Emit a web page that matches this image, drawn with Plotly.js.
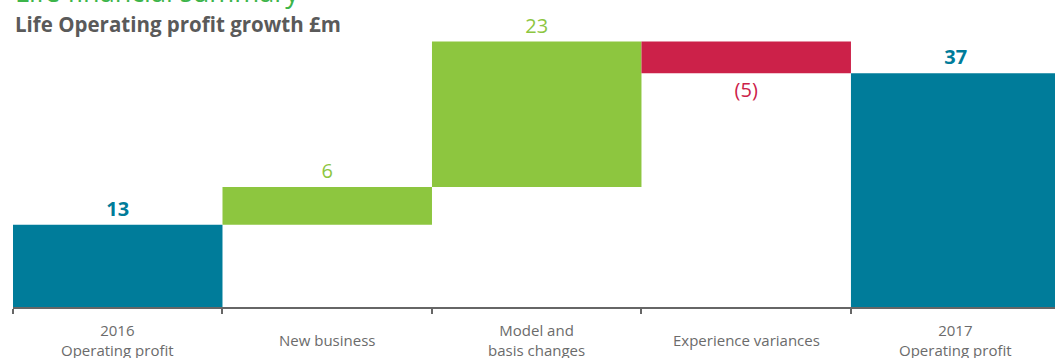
<!DOCTYPE html>
<html>
<head>
<meta charset="utf-8">
<script src="https://cdn.plot.ly/plotly-3.0.1.min.js"></script>
<style>html,body{margin:0;padding:0;background:#fff;}#chart{width:1055px;height:358px;}</style>
</head>
<body>
<div id="chart"></div>
<script>
const categories = ['2016 Operating profit', 'New business', 'Model and basis changes', 'Experience variances', '2017 Operating profit'];
const tickLabels = ['2016<br>Operating profit', 'New business', 'Model and<br>basis changes', 'Experience variances', '2017<br>Operating profit'];
const values = [13, 6, 23, -5, 37];
const measures = ['absolute', 'relative', 'relative', 'relative', 'total'];
const valueLabels = ['13', '6', '23', '(5)', '37'];
const labelColors = ['#007c9a', '#8dc63f', '#8dc63f', '#cc2149', '#007c9a'];
const labelWeights = [700, 400, 400, 400, 700];

const TEAL = '#007c9a', GREEN = '#8dc63f', RED = '#cc2149';
const FONT = '"Open Sans", Lato, sans-serif';

const trace = {
  type: 'waterfall',
  x: categories,
  y: values,
  measure: measures,
  text: valueLabels,
  textposition: 'outside',
  textfont: {family: FONT, size: 20, color: labelColors, weight: labelWeights},
  cliponaxis: false,
  width: 1,
  increasing: {marker: {color: GREEN}},
  decreasing: {marker: {color: RED}},
  totals: {marker: {color: TEAL}},
  connector: {visible: false},
  hoverinfo: 'none'
};

const catAnnotations = categories.map((c, i) => ({
  x: c, xref: 'x', yref: 'paper', y: -0.1236, xanchor: 'center', yanchor: 'middle',
  text: tickLabels[i], showarrow: false, align: 'center',
  font: {family: FONT, size: 15, color: '#6b6b6b'}
}));

const layout = {
  width: 1055, height: 358,
  margin: {l: 13, r: 0, t: 40, b: 51, pad: 0},
  paper_bgcolor: '#ffffff', plot_bgcolor: '#ffffff',
  showlegend: false,
  bargap: 0,
  font: {family: FONT},
  xaxis: {
    type: 'category',
    range: [-0.5, 4.474],
    showline: true, linecolor: '#666666', linewidth: 2,
    ticks: 'outside', tickson: 'boundaries', ticklen: 5, tickwidth: 2, tickcolor: '#666666',
    showticklabels: false,
    showgrid: false, zeroline: false, fixedrange: true
  },
  yaxis: {range: [0, 42.25], visible: false, fixedrange: true},
  annotations: [
    {xref: 'paper', yref: 'paper', x: 0.0, y: 1.181, xanchor: 'left', yanchor: 'middle',
     text: 'Life financial summary', showarrow: false,
     font: {family: FONT, size: 27, color: '#3db54a'}},
    {xref: 'paper', yref: 'paper', x: 0.0, y: 1.06, xanchor: 'left', yanchor: 'middle',
     text: '<b>Life Operating profit growth £m</b>', showarrow: false,
     font: {family: FONT, size: 20.5, color: '#5a5a5a'}}
  ].concat(catAnnotations)
};

Plotly.newPlot('chart', [trace], layout, {displayModeBar: false, staticPlot: true});
</script>
</body>
</html>
